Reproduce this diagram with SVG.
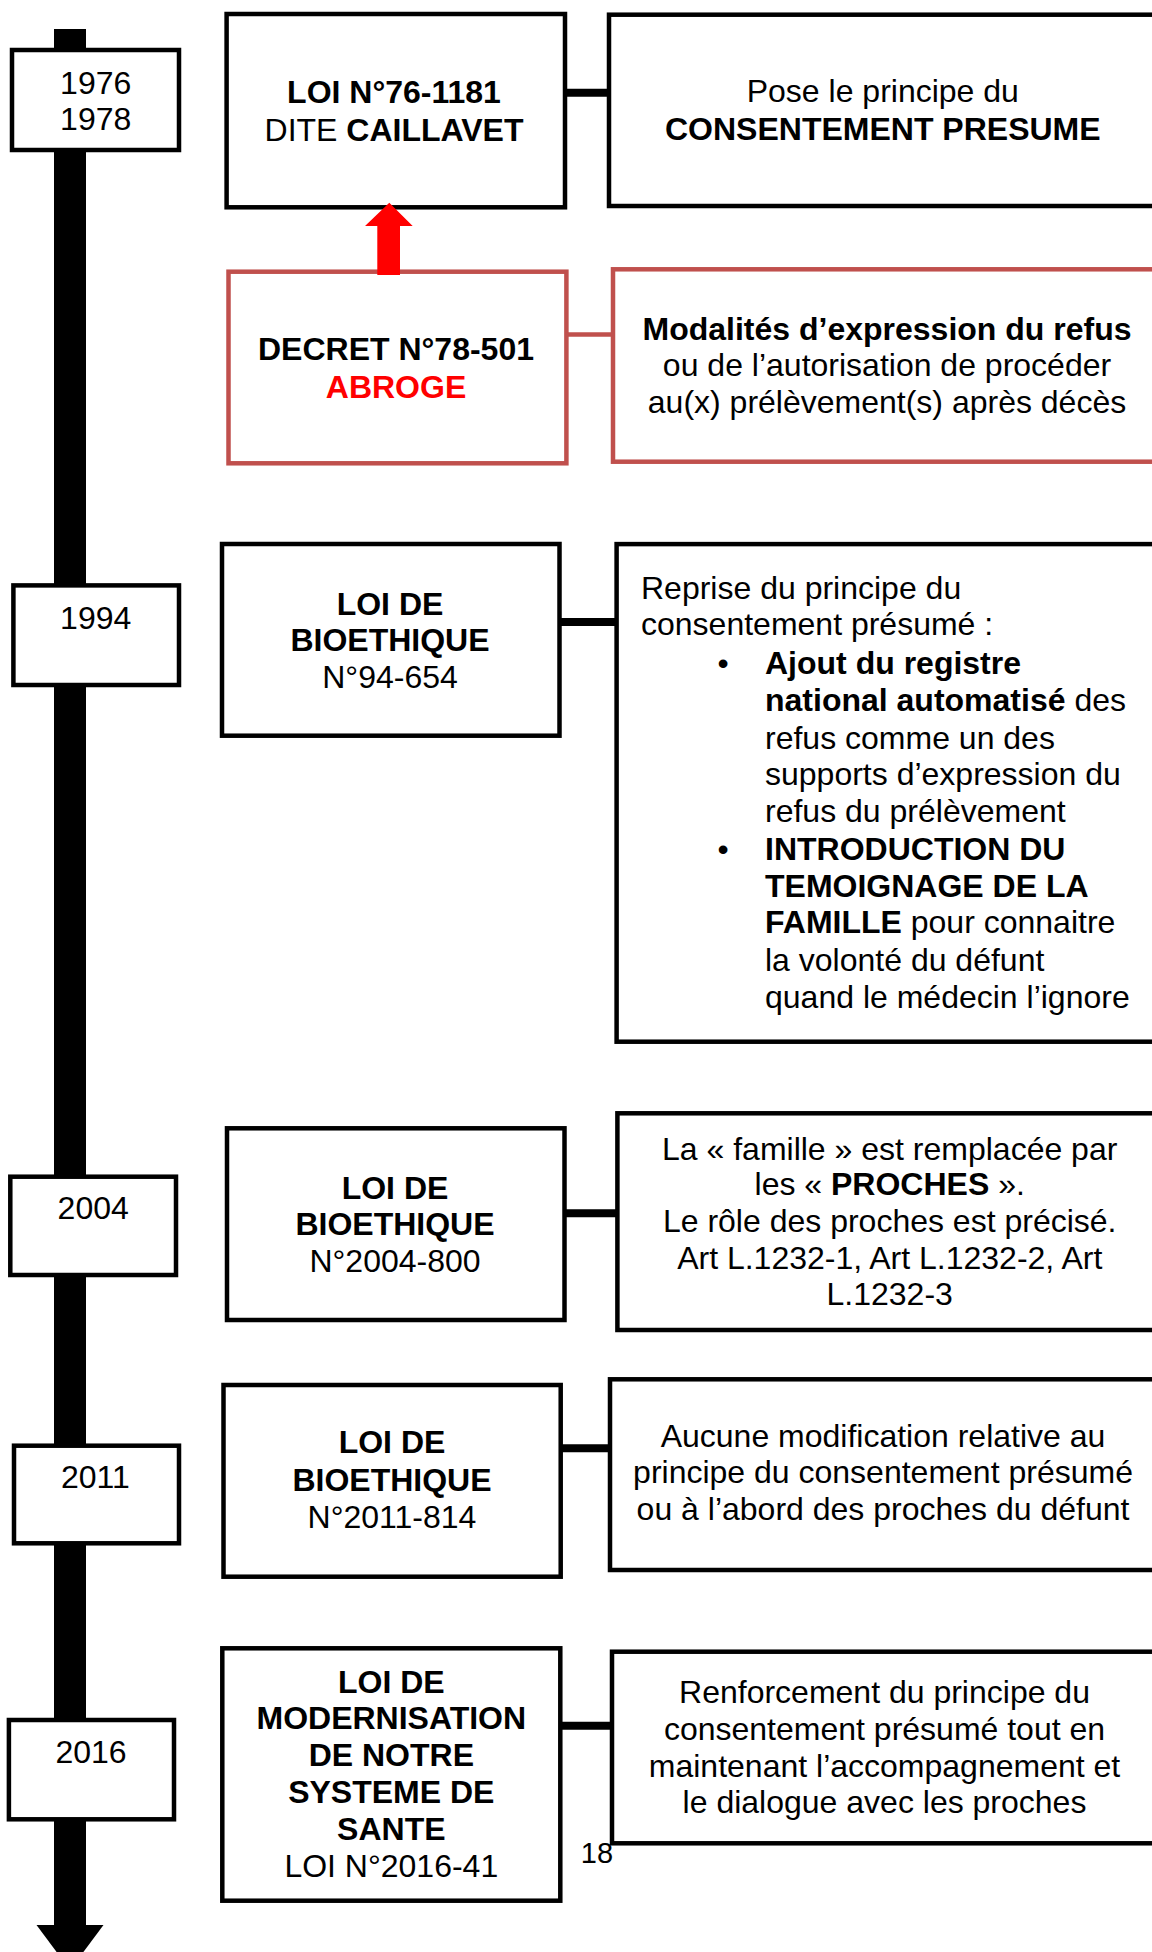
<svg xmlns="http://www.w3.org/2000/svg" width="1152" height="1952" viewBox="0 0 1152 1952">
<defs>
<style>
.box{fill:#fff;stroke:#000;stroke-width:4.5}
.rbox{fill:#fff;stroke:#C0504D;stroke-width:4.5}
.t{font-family:"Liberation Sans",Arial,sans-serif;font-size:32px;fill:#000}
.c{text-anchor:middle}
.b{font-weight:bold}
.red{fill:#FF0000}
.conn{stroke:#000;stroke-width:8;fill:none}
.rconn{stroke:#C0504D;stroke-width:4.5;fill:none}
</style>
<filter id="sh" x="-20%" y="-100%" width="140%" height="400%">
<feGaussianBlur stdDeviation="1.5"/>
</filter>
</defs>
<rect width="1152" height="1952" fill="#fff"/>

<g id="timeline">
<rect x="54" y="29" width="32" height="1897" fill="#000"/>
<polygon points="36.5,1925 103.5,1925 70,1970" fill="#000"/>
</g>

<g id="year-1976">
<rect class="box" x="12" y="50" width="167" height="100"/>
<text class="t c" x="95.7" y="94.3">1976</text>
<text class="t c" x="95.7" y="130">1978</text>
</g>
<g id="year-1994">
<rect class="box" x="13.4" y="585.4" width="165.6" height="99.6"/>
<text class="t c" x="95.7" y="628.9">1994</text>
</g>
<g id="year-2004">
<rect class="box" x="10.3" y="1176.7" width="165.7" height="98.3"/>
<text class="t c" x="93.2" y="1219.3">2004</text>
</g>
<g id="year-2011">
<rect class="box" x="14" y="1445.7" width="165" height="97.6"/>
<text class="t c" x="95.3" y="1488.3">2011</text>
</g>
<g id="year-2016">
<rect class="box" x="8.9" y="1720" width="165.1" height="99.3"/>
<text class="t c" x="91" y="1763.3">2016</text>
</g>

<g id="loi-76-1181">
<rect class="box" x="226.6" y="14" width="338.4" height="193.3"/>
<text class="t c b" x="394" y="102.7">LOI N°76-1181</text>
<text class="t c" x="394" y="140.7">DITE <tspan class="b">CAILLAVET</tspan></text>
</g>
<g id="decret-78-501">
<rect class="rbox" x="228.5" y="271.7" width="337.9" height="191.6"/>
<text class="t c b" x="396" y="360">DECRET N°78-501</text>
<text class="t c b red" x="396" y="397.7">ABROGE</text>
</g>
<g id="loi-94-654">
<rect class="box" x="222" y="544" width="337.5" height="191.7"/>
<text class="t c b" x="390" y="614.6">LOI DE</text>
<text class="t c b" x="390" y="651.4">BIOETHIQUE</text>
<text class="t c" x="390" y="687.9">N°94-654</text>
</g>
<g id="loi-2004-800">
<rect class="box" x="227" y="1128.3" width="337.5" height="191.7"/>
<text class="t c b" x="395" y="1199">LOI DE</text>
<text class="t c b" x="395" y="1235">BIOETHIQUE</text>
<text class="t c" x="395" y="1271.7">N°2004-800</text>
</g>
<g id="loi-2011-814">
<rect class="box" x="223.5" y="1385" width="337.2" height="191.7"/>
<text class="t c b" x="392" y="1453.3">LOI DE</text>
<text class="t c b" x="392" y="1490.7">BIOETHIQUE</text>
<text class="t c" x="392" y="1528.3">N°2011-814</text>
</g>
<g id="loi-2016-41">
<rect class="box" x="222.3" y="1648.3" width="338" height="252.4"/>
<text class="t c b" x="391.3" y="1693.3">LOI DE</text>
<text class="t c b" x="391.3" y="1729">MODERNISATION</text>
<text class="t c b" x="391.3" y="1765.7">DE NOTRE</text>
<text class="t c b" x="391.3" y="1802.7">SYSTEME DE</text>
<text class="t c b" x="391.3" y="1840">SANTE</text>
<text class="t c" x="391.3" y="1876.7">LOI N°2016-41</text>
</g>

<g id="desc-76">
<rect class="box" x="609" y="14.7" width="560" height="191.3"/>
<text class="t c" x="882.8" y="101.7">Pose le principe du</text>
<text class="t c b" x="882.8" y="140">CONSENTEMENT PRESUME</text>
</g>
<g id="desc-78">
<rect class="rbox" x="613" y="269.3" width="560" height="192.4"/>
<text class="t c b" x="887" y="340">Modalités d’expression du refus</text>
<text class="t c" x="887" y="376">ou de l’autorisation de procéder</text>
<text class="t c" x="887" y="412.7">au(x) prélèvement(s) après décès</text>
</g>
<g id="desc-94">
<rect class="box" x="616.6" y="544.1" width="560" height="497.6"/>
<text class="t" x="641" y="598.5">Reprise du principe du</text>
<text class="t" x="641" y="635.4">consentement présumé :</text>
<text class="t c" x="723" y="674.3">•</text>
<text class="t b" x="765" y="674.3">Ajout du registre</text>
<text class="t" x="765" y="711.1"><tspan class="b">national automatisé</tspan> des</text>
<text class="t" x="765" y="749">refus comme un des</text>
<text class="t" x="765" y="785.2">supports d’expression du</text>
<text class="t" x="765" y="822.3">refus du prélèvement</text>
<text class="t c" x="723" y="860.2">•</text>
<text class="t b" x="765" y="860.2">INTRODUCTION DU</text>
<text class="t b" x="765" y="897.1">TEMOIGNAGE DE LA</text>
<text class="t" x="765" y="933.2"><tspan class="b">FAMILLE</tspan> pour connaitre</text>
<text class="t" x="765" y="971.1">la volonté du défunt</text>
<text class="t" x="765" y="1008.3">quand le médecin l’ignore</text>
</g>
<g id="desc-2004">
<rect class="box" x="617.4" y="1113.3" width="560" height="216.7"/>
<text class="t c" x="889.7" y="1160">La « famille » est remplacée par</text>
<text class="t c" x="889.7" y="1195">les « <tspan class="b">PROCHES</tspan> ».</text>
<text class="t c" x="889.7" y="1231.7">Le rôle des proches est précisé.</text>
<text class="t c" x="889.7" y="1269.3">Art L.1232-1, Art L.1232-2, Art</text>
<text class="t c" x="889.7" y="1305">L.1232-3</text>
</g>
<g id="desc-2011">
<rect class="box" x="610" y="1379.3" width="560" height="190.7"/>
<text class="t c" x="883" y="1446.7">Aucune modification relative au</text>
<text class="t c" x="883" y="1483.3">principe du consentement présumé</text>
<text class="t c" x="883" y="1520">ou à l’abord des proches du défunt</text>
</g>
<g id="desc-2016">
<rect class="box" x="612" y="1651.7" width="560" height="191.6"/>
<text class="t c" x="884.5" y="1702.7">Renforcement du principe du</text>
<text class="t c" x="884.5" y="1740">consentement présumé tout en</text>
<text class="t c" x="884.5" y="1776.7">maintenant l’accompagnement et</text>
<text class="t c" x="884.5" y="1812.7">le dialogue avec les proches</text>
</g>

<g id="connectors">
<line class="conn" x1="565" y1="92.8" x2="609" y2="92.8"/>
<line x1="567" y1="339" x2="612" y2="339" stroke="#999" stroke-width="3" filter="url(#sh)"/>
<line class="rconn" x1="566" y1="334.5" x2="613" y2="334.5"/>
<line class="conn" x1="559.5" y1="622" x2="616.6" y2="622"/>
<line class="conn" x1="564.5" y1="1213.3" x2="617.4" y2="1213.3"/>
<line class="conn" x1="560.7" y1="1448.3" x2="610" y2="1448.3"/>
<line class="conn" x1="560.3" y1="1725.7" x2="612" y2="1725.7"/>
<polygon points="377.3,275 377.3,226 365,226 389.3,202.7 412.7,226 400,226 400,275" fill="#FF0000"/>
</g>

<text class="t" x="580.8" y="1862.7" style="font-size:29px">18</text>
</svg>
